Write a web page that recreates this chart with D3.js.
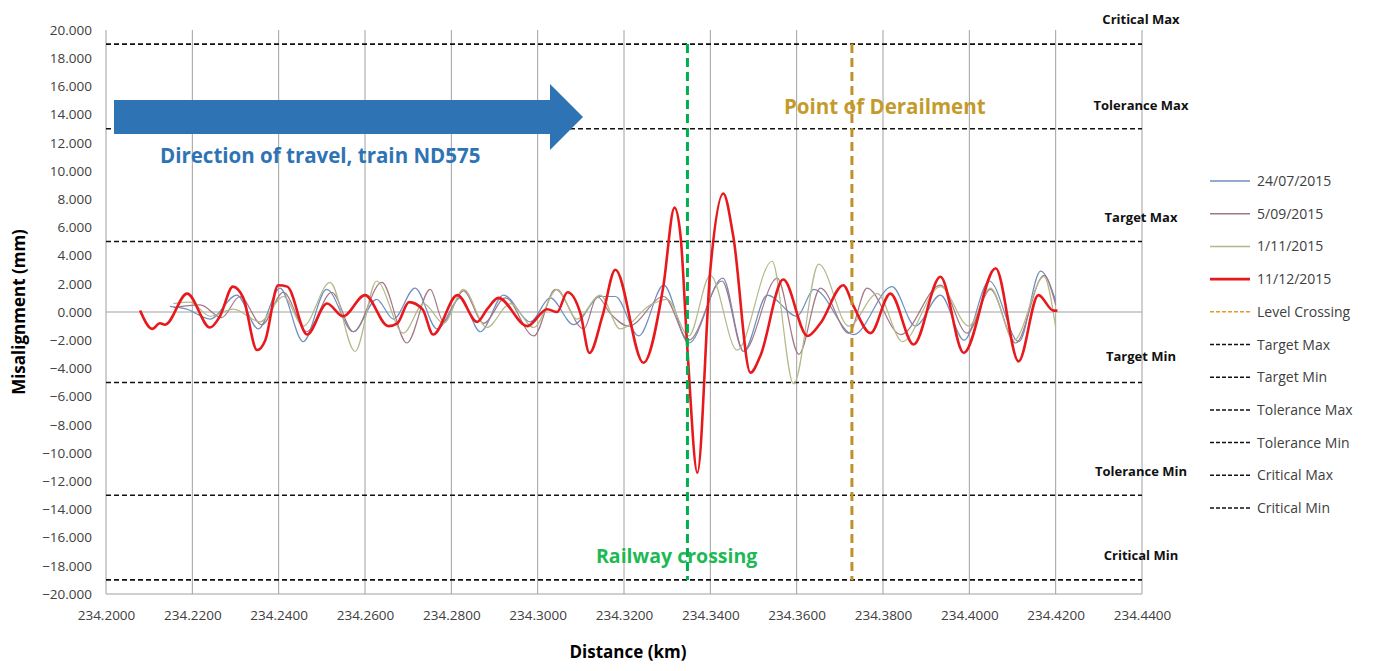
<!DOCTYPE html>
<html><head><meta charset="utf-8">
<script src="https://cdn.jsdelivr.net/npm/d3@7"></script>
<style>body{margin:0;background:#fff;font-family:"Open Sans",sans-serif}</style>
</head><body><div id="chart"></div>
<script>
// distance (km), misalignment (mm)
var red1112 = [[234.2079,0.1],[234.2107,-1.2],[234.2125,-0.8],[234.2137,-0.9],[234.2188,1.3],[234.2241,-1.1],[234.2264,-0.3],[234.2294,1.8],[234.2318,1.0],[234.2350,-2.7],[234.2369,-2.0],[234.2399,1.9],[234.2420,1.8],[234.2466,-1.6],[234.2512,0.6],[234.2549,-0.3],[234.2600,1.2],[234.2654,-1.0],[234.2675,-0.8],[234.2702,0.7],[234.2733,0.2],[234.2758,-1.6],[234.2814,1.2],[234.2860,-0.7],[234.2883,0.2],[234.2909,1.0],[234.2976,-1.0],[234.3022,0.2],[234.3045,0.0],[234.3069,1.4],[234.3099,-0.1],[234.3120,-2.9],[234.3150,-0.3],[234.3180,3.0],[234.3245,-3.6],[234.3291,1.8],[234.3317,7.4],[234.3331,5.4],[234.3347,-2.7],[234.3370,-11.4],[234.3400,3.0],[234.3430,8.4],[234.3453,5.4],[234.3493,-4.3],[234.3516,-3.1],[234.3569,2.3],[234.3625,-1.7],[234.3655,-0.8],[234.3708,1.9],[234.3732,0.4],[234.3771,-1.5],[234.3817,1.3],[234.3871,-2.3],[234.3933,2.5],[234.3987,-2.9],[234.4061,3.1],[234.4114,-3.5],[234.4160,1.2],[234.4195,0.1],[234.4204,0.1]];
var blue2407 = [[234.2148,0.4],[234.2187,0.2],[234.2241,-0.5],[234.2303,1.2],[234.2353,-1.2],[234.2403,1.7],[234.2457,-2.1],[234.2511,1.6],[234.2573,-1.4],[234.2627,0.9],[234.2666,-0.5],[234.2716,1.7],[234.2767,-1.2],[234.2821,1.0],[234.2867,-1.4],[234.2921,1.2],[234.2983,-0.7],[234.3029,1.0],[234.3083,-0.9],[234.3145,1.1],[234.3180,1.1],[234.3234,-1.7],[234.3292,1.9],[234.3350,-2.2],[234.3429,2.4],[234.3477,-2.8],[234.3532,1.2],[234.3601,-0.3],[234.3640,1.6],[234.3732,-1.6],[234.3821,1.8],[234.3875,-1.0],[234.3933,1.2],[234.3988,-2.0],[234.4046,2.2],[234.4115,-2.1],[234.4165,2.9],[234.4200,0.8]];
var purple0509 = [[234.2156,0.3],[234.2218,0.5],[234.2268,-0.4],[234.2310,1.1],[234.2361,-0.9],[234.2411,1.4],[234.2465,-1.4],[234.2523,1.4],[234.2573,-1.4],[234.2639,2.1],[234.2697,-2.2],[234.2751,1.6],[234.2782,-0.7],[234.2828,1.5],[234.2875,-0.8],[234.2925,1.0],[234.2991,-1.7],[234.3041,1.6],[234.3107,-1.2],[234.3138,1.1],[234.3168,-0.1],[234.3211,-1.0],[234.3292,1.1],[234.3350,-2.0],[234.3427,2.2],[234.3477,-2.8],[234.3555,2.4],[234.3605,-3.0],[234.3655,1.7],[234.3721,-1.5],[234.3763,1.7],[234.3841,-1.6],[234.3933,1.9],[234.3995,-1.5],[234.4049,1.6],[234.4107,-2.2],[234.4173,2.6],[234.4200,0.5]];
var olive0111 = [[234.2156,0.6],[234.2195,0.7],[234.2241,-0.3],[234.2295,0.2],[234.2357,-0.7],[234.2411,1.1],[234.2457,-1.0],[234.2519,2.1],[234.2577,-2.8],[234.2627,2.2],[234.2689,-1.5],[234.2736,0.6],[234.2782,-0.8],[234.2828,1.6],[234.2882,-1.1],[234.2937,0.6],[234.2991,-1.1],[234.3045,1.6],[234.3091,-0.5],[234.3145,1.2],[234.3191,-1.2],[234.3261,0.5],[234.3300,0.9],[234.3350,-1.7],[234.3400,2.6],[234.3462,-2.7],[234.3543,3.6],[234.3593,-5.1],[234.3651,3.4],[234.3721,-1.0],[234.3787,1.3],[234.3845,-2.1],[234.3933,1.8],[234.3999,-1.0],[234.4049,1.7],[234.4103,-2.0],[234.4173,2.5],[234.4200,-1.1]];

var xTicks = d3.range(0, 13).map(function (i) { return 234.2 + i * 0.02; });
var yTicks = d3.range(-20, 21, 2);
var limits = [
  {name: "Critical Max", v: 19, ly: 24},
  {name: "Tolerance Max", v: 13, ly: 110},
  {name: "Target Max", v: 5, ly: 222},
  {name: "Target Min", v: -5, ly: 361},
  {name: "Tolerance Min", v: -13, ly: 476},
  {name: "Critical Min", v: -19, ly: 560}
];
var railwayCrossing = 234.3347;
var derailment = 234.3728;

var series = [
  {name: "24/07/2015", data: blue2407, color: "#6f8fbf", w: 1.2},
  {name: "5/09/2015", data: purple0509, color: "#a27786", w: 1.2},
  {name: "1/11/2015", data: olive0111, color: "#b3b98a", w: 1.2},
  {name: "11/12/2015", data: red1112, color: "#e8191c", w: 2.6}
];

var W = 1378, H = 671;
var x = d3.scaleLinear().domain([234.2, 234.44]).range([106, 1142]);
var y = d3.scaleLinear().domain([-20, 20]).range([594, 30]);

var svg = d3.select("#chart").append("svg").attr("width", W).attr("height", H);

// vertical gridlines
svg.selectAll(".vg").data(xTicks).enter().append("line")
  .attr("x1", d => x(d)).attr("x2", d => x(d))
  .attr("y1", y(20)).attr("y2", y(-20))
  .attr("stroke", "#a0a0a0").attr("stroke-width", 1);
svg.append("line").attr("x1", x(234.2)).attr("x2", x(234.44))
  .attr("y1", y(0)).attr("y2", y(0)).attr("stroke", "#a0a0a0");
svg.append("line").attr("x1", x(234.2)).attr("x2", x(234.44))
  .attr("y1", y(-20)).attr("y2", y(-20)).attr("stroke", "#a0a0a0");

var xAxis = d3.axisBottom(x).tickValues(xTicks).tickFormat(d3.format(".4f")).tickSize(0).tickPadding(16);
var gx = svg.append("g").attr("transform", `translate(0,${y(-20)})`).call(xAxis);
gx.select(".domain").remove();
gx.selectAll("text").attr("font-size", 13.5).attr("fill", "#404040").attr("font-family", "'Open Sans',sans-serif");

var yAxis = d3.axisLeft(y).tickValues(yTicks).tickFormat(d3.format(".3f")).tickSize(0).tickPadding(14);
var gy = svg.append("g").attr("transform", `translate(${x(234.2)},0)`).call(yAxis);
gy.select(".domain").remove();
gy.selectAll("text").attr("font-size", 13.5).attr("fill", "#404040").attr("font-family", "'Open Sans',sans-serif");

// limit lines
svg.selectAll(".lim").data(limits).enter().append("line")
  .attr("x1", x(234.2)).attr("x2", x(234.44))
  .attr("y1", d => y(d.v)).attr("y2", d => y(d.v))
  .attr("stroke", "#111").attr("stroke-width", 1.6).attr("stroke-dasharray", "5,3");
svg.selectAll(".limt").data(limits).enter().append("text")
  .attr("x", 1141).attr("y", d => d.ly).attr("text-anchor", "middle")
  .attr("font-size", 13).attr("font-weight", "bold").attr("fill", "#111")
  .text(d => d.name);

// series
var line = d3.line().x(d => x(d[0])).y(d => y(d[1])).curve(d3.curveMonotoneX);
svg.selectAll(".ser").data(series).enter().append("path")
  .attr("d", d => line(d.data)).attr("fill", "none")
  .attr("stroke", d => d.color).attr("stroke-width", d => d.w);

// markers
svg.append("line").attr("x1", x(railwayCrossing)).attr("x2", x(railwayCrossing))
  .attr("y1", 44).attr("y2", 580).attr("stroke", "#00b050").attr("stroke-width", 3).attr("stroke-dasharray", "9,5");
svg.append("line").attr("x1", x(derailment)).attr("x2", x(derailment))
  .attr("y1", 44).attr("y2", 580).attr("stroke", "#c0912a").attr("stroke-width", 3).attr("stroke-dasharray", "9,5");

// arrow
svg.append("path").attr("d", "M114,100 L550,100 L550,84 L583,117 L550,150 L550,134 L114,134 Z").attr("fill", "#2e74b5");
svg.append("text").attr("x", 160).attr("y", 163).attr("font-size", 20.5).attr("font-weight", "bold").attr("fill", "#2e74b5").text("Direction of travel, train ND575");
svg.append("text").attr("x", 784).attr("y", 114).attr("font-size", 20.5).attr("font-weight", "bold").attr("fill", "#c39b2c").text("Point of Derailment");
svg.append("text").attr("x", 596).attr("y", 563).attr("font-size", 19.5).attr("font-weight", "bold").attr("fill", "#1db954").text("Railway crossing");

// axis titles
svg.append("text").attr("transform", "translate(25,312) rotate(-90)").attr("text-anchor", "middle")
  .attr("font-size", 17).attr("font-weight", "bold").text("Misalignment (mm)");
svg.append("text").attr("x", 628).attr("y", 658).attr("text-anchor", "middle")
  .attr("font-size", 17).attr("font-weight", "bold").text("Distance (km)");

// legend
var legendItems = series.map(s => ({name: s.name, color: s.color, w: s.name === "11/12/2015" ? 2.6 : 1.5, dash: null}))
  .concat([{name: "Level Crossing", color: "#e69a2a", w: 1.5, dash: "4,2"}])
  .concat(["Target Max", "Target Min", "Tolerance Max", "Tolerance Min", "Critical Max", "Critical Min"]
    .map(n => ({name: n, color: "#111", w: 1.5, dash: "4,2"})));
var lg = svg.selectAll(".lg").data(legendItems).enter().append("g")
  .attr("transform", (d, i) => `translate(1210,${181 + i * 32.7})`);
lg.append("line").attr("x1", 0).attr("x2", 40).attr("stroke", d => d.color)
  .attr("stroke-width", d => d.w).attr("stroke-dasharray", d => d.dash);
lg.append("text").attr("x", 47).attr("y", 5).attr("font-size", 14).attr("fill", "#404040").text(d => d.name);
</script></body></html>
